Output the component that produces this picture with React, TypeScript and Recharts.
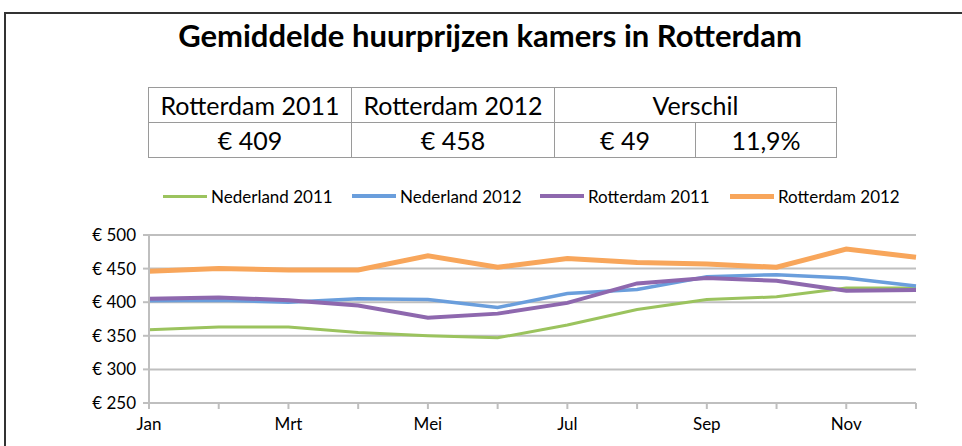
import React from 'react';
import { LineChart, Line, XAxis, YAxis, CartesianGrid } from 'recharts';

// maanden en waarden
const months = ['Jan', 'Feb', 'Mrt', 'Apr', 'Mei', 'Jun', 'Jul', 'Aug', 'Sep', 'Okt', 'Nov', 'Dec'];
const nederland2011 = [359, 363, 363, 355, 350, 347, 366, 389, 404, 408, 421, 421];
const nederland2012 = [402, 403, 400, 405, 404, 392, 413, 419, 438, 441, 436, 424];
const rotterdam2011 = [405, 407, 403, 395, 377, 383, 399, 428, 436, 432, 417, 418];
const rotterdam2012 = [446, 450, 448, 448, 469, 452, 465, 459, 457, 452, 479, 467];
const yTicks = [250, 300, 350, 400, 450, 500];

const summaryHeaders = ['Rotterdam 2011', 'Rotterdam 2012', 'Verschil'];
const summaryValues = ['€ 409', '€ 458', '€ 49', '11,9%'];

const series = [
  { key: 'nl2011', name: 'Nederland 2011', color: '#9BC35E', width: 3, legendX: 163 },
  { key: 'nl2012', name: 'Nederland 2012', color: '#6A9EDC', width: 3.5, legendX: 352 },
  { key: 'rd2011', name: 'Rotterdam 2011', color: '#8E68AE', width: 4, legendX: 540 },
  { key: 'rd2012', name: 'Rotterdam 2012', color: '#F8A65B', width: 5, legendX: 730 },
];

const data = months.map((m, i) => ({
  month: m,
  nl2011: nederland2011[i],
  nl2012: nederland2012[i],
  rd2011: rotterdam2011[i],
  rd2012: rotterdam2012[i],
}));

const FONT = 'Lato, "Open Sans", sans-serif';
const GRID = '#BFBFBF';

// alleen elke tweede maand een label
const MonthTick = (props: any) => {
  const { x, y, payload, index } = props;
  if (index % 2 !== 0) return null;
  return (
    <text x={x} y={y} dy="0.71em" textAnchor="middle" fontSize={17} fontFamily={FONT} fill="#000">
      {payload.value}
    </text>
  );
};

const cell: React.CSSProperties = {
  border: '1px solid #9a9a9a',
  textAlign: 'center',
  fontSize: 25,
  padding: 0,
  height: 34,
};

export default function App() {
  return (
    <div style={{ position: 'absolute', left: 0, top: 0, width: 962, height: 446, fontFamily: FONT, background: '#fff', overflow: 'hidden' }}>
      <div style={{ position: 'absolute', left: 0, width: 980, top: 16, textAlign: 'center', fontWeight: 'bold', fontSize: 31 }}>
        Gemiddelde huurprijzen kamers in Rotterdam
      </div>

      {/* samenvattingstabel */}
      <table style={{ position: 'absolute', left: 148, top: 87, borderCollapse: 'collapse', fontFamily: FONT }}>
        <tbody>
          <tr>
            <td style={{ ...cell, width: 202 }}>{summaryHeaders[0]}</td>
            <td style={{ ...cell, width: 202 }}>{summaryHeaders[1]}</td>
            <td style={{ ...cell, width: 280 }} colSpan={2}>{summaryHeaders[2]}</td>
          </tr>
          <tr>
            <td style={cell}>{summaryValues[0]}</td>
            <td style={cell}>{summaryValues[1]}</td>
            <td style={{ ...cell, width: 140 }}>{summaryValues[2]}</td>
            <td style={{ ...cell, width: 140 }}>{summaryValues[3]}</td>
          </tr>
        </tbody>
      </table>

      {/* legenda */}
      {series.map((s) => (
        <div key={s.key} style={{ position: 'absolute', top: 185, left: s.legendX, display: 'flex', alignItems: 'center', fontSize: 17, height: 22 }}>
          <div style={{ width: 44, height: s.width, background: s.color, marginRight: 4 }} />
          <span>{s.name}</span>
        </div>
      ))}

      <div style={{ position: 'absolute', left: 0, top: 0 }}>
        <LineChart width={962} height={446} data={data} margin={{ top: 235, right: 46, bottom: 0, left: 89 }}>
          <CartesianGrid vertical={false} stroke={GRID} strokeWidth={2} />
          <XAxis
            dataKey="month"
            interval={0}
            height={43}
            tick={<MonthTick />}
            tickSize={6}
            tickMargin={9}
            axisLine={{ stroke: GRID, strokeWidth: 2 }}
            tickLine={{ stroke: GRID, strokeWidth: 2 }}
          />
          <YAxis
            width={60}
            domain={[250, 500]}
            ticks={yTicks}
            interval={0}
            tickFormatter={(v: number) => `€ ${v}`}
            tick={{ fontSize: 17, fill: '#000', fontFamily: FONT }}
            tickSize={6}
            tickMargin={7}
            axisLine={{ stroke: GRID, strokeWidth: 2 }}
            tickLine={{ stroke: GRID, strokeWidth: 2 }}
          />
          {series.map((s) => (
            <Line
              key={s.key}
              type="linear"
              dataKey={s.key}
              name={s.name}
              stroke={s.color}
              strokeWidth={s.width}
              dot={false}
              isAnimationActive={false}
            />
          ))}
        </LineChart>
      </div>

      {/* kader */}
      <div style={{ position: 'absolute', left: 4, top: 12, width: 958, height: 1.5, background: '#333' }} />
      <div style={{ position: 'absolute', left: 4, top: 12, width: 1.5, height: 434, background: '#333' }} />
    </div>
  );
}
